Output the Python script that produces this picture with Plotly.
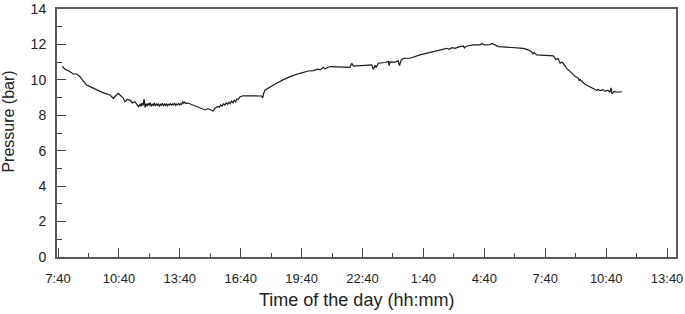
import plotly.graph_objects as go

# Time in hours elapsed since 7:40, pressure in bar
hours = [
    0.21, 0.34, 0.54, 0.75, 0.92, 1.08, 1.23, 1.41, 1.58, 1.82, 2.07, 2.32, 2.56, 2.72, 2.86, 2.97,
    3.14, 3.20, 3.30, 3.40, 3.55, 3.65, 3.79, 3.89, 3.96,
    4.04, 4.09, 4.14, 4.19, 4.24, 4.29, 4.34, 4.39, 4.44, 4.49, 4.54, 4.59, 4.64, 4.69, 4.74, 4.79,
    4.84, 4.89, 4.94, 4.99, 5.04, 5.09, 5.14, 5.19, 5.24, 5.29, 5.34, 5.39, 5.44, 5.49, 5.54, 5.59,
    5.64, 5.69, 5.74, 5.79, 5.84, 5.89, 5.94, 5.99, 6.04, 6.09, 6.14, 6.19, 6.24, 6.30,
    6.40, 6.65, 7.00, 7.24, 7.39, 7.49, 7.64, 7.73, 7.88,
    7.95, 8.02, 8.08, 8.15, 8.22, 8.28, 8.35, 8.42, 8.48, 8.55, 8.62, 8.68, 8.75, 8.82, 8.88, 8.97,
    9.11, 10.03, 10.08, 10.12, 10.20, 10.44, 10.77, 11.08, 11.43, 11.92, 12.33, 12.58, 12.81, 12.91,
    13.07, 13.15, 13.40, 14.38, 14.47, 14.55, 15.45, 15.53, 15.62, 15.67, 15.78, 16.11, 16.27, 16.31,
    16.35, 16.60, 16.76, 16.82, 16.90, 17.01, 17.34, 17.83, 18.33, 19.15, 19.26, 19.41, 19.56, 19.70,
    19.96, 20.02, 20.10, 20.46, 20.79, 20.89, 20.99, 21.28, 21.38, 21.48, 21.69, 22.92, 23.10, 23.33,
    23.40, 23.45, 23.58, 24.40, 24.53, 24.63, 24.73, 24.83, 25.06, 25.47, 25.62, 25.67, 25.71, 25.96,
    26.45, 26.55, 26.60, 26.70, 26.85, 26.95, 27.09, 27.19, 27.24, 27.29, 27.39, 27.54, 27.78,
]
pressure = [
    10.78, 10.60, 10.50, 10.33, 10.33, 10.18, 9.95, 9.71, 9.62, 9.47, 9.35, 9.24, 9.15, 8.96, 9.10, 9.24,
    9.05, 9.00, 8.77, 8.90, 8.86, 8.70, 8.77, 8.60, 8.49,
    8.62, 8.50, 8.70, 8.55, 8.92, 8.45, 8.65, 8.52, 8.68, 8.55, 8.72, 8.50, 8.62, 8.56, 8.70, 8.52,
    8.64, 8.58, 8.66, 8.50, 8.62, 8.57, 8.68, 8.53, 8.63, 8.56, 8.66, 8.54, 8.62, 8.58, 8.67, 8.55,
    8.64, 8.59, 8.69, 8.56, 8.63, 8.60, 8.67, 8.58, 8.65, 8.62, 8.78, 8.68, 8.74, 8.66,
    8.69, 8.58, 8.45, 8.30, 8.38, 8.32, 8.24, 8.40, 8.50,
    8.46, 8.58, 8.52, 8.64, 8.58, 8.70, 8.62, 8.74, 8.66, 8.80, 8.70, 8.86, 8.76, 8.92, 8.90, 9.05,
    9.10, 9.09, 8.98, 9.20, 9.43, 9.60, 9.81, 10.00, 10.18, 10.37, 10.50, 10.52, 10.60, 10.56,
    10.71, 10.62, 10.75, 10.71, 10.94, 10.78, 10.85, 10.60, 10.82, 10.70, 10.94, 10.98, 11.05, 10.80,
    11.02, 11.00, 11.07, 10.80, 11.10, 11.22, 11.22, 11.41, 11.54, 11.78, 11.72, 11.82, 11.78, 11.85,
    11.91, 11.80, 11.90, 11.97, 11.98, 12.05, 11.97, 11.98, 12.05, 11.98, 11.88, 11.78, 11.72, 11.59,
    11.45, 11.55, 11.41, 11.35, 11.15, 11.20, 10.94, 11.00, 10.65, 10.20, 10.10, 9.95, 10.02, 9.75,
    9.43, 9.40, 9.47, 9.39, 9.45, 9.35, 9.42, 9.30, 9.55, 9.22, 9.35, 9.30, 9.33,
]

tick_vals = [0, 3, 6, 9, 12, 15, 18, 21, 24, 27, 30]
tick_text = ["7:40", "10:40", "13:40", "16:40", "19:40", "22:40", "1:40", "4:40", "7:40", "10:40", "13:40"]

fig = go.Figure()
fig.add_trace(go.Scatter(x=hours, y=pressure, mode="lines",
                         line=dict(color="#1a1a1a", width=1.2), showlegend=False))

font = "Liberation Sans, Arial, Helvetica, sans-serif"
fig.update_layout(
    width=685, height=314,
    margin=dict(l=57, r=9, t=9, b=57, autoexpand=False),
    paper_bgcolor="white", plot_bgcolor="white",
    font=dict(family=font, color="#222222", size=13),
    annotations=[
        dict(text="Time of the day (hh:mm)", xref="paper", yref="paper",
             x=0.484, y=-0.173, xanchor="center", yanchor="middle", showarrow=False,
             font=dict(size=18, color="#222222")),
        dict(text="Pressure (bar)", xref="paper", yref="paper",
             x=-0.0775, y=0.546, xanchor="center", yanchor="middle", showarrow=False,
             textangle=-90, font=dict(size=16, color="#222222")),
    ],
)
fig.update_xaxes(
    range=[-0.05, 30.44], tickvals=tick_vals, ticktext=tick_text,
    ticks="inside", ticklen=9, tickwidth=1, tickcolor="#444444",
    minor=dict(ticks="inside", ticklen=4, dtick=1.5, tick0=0, tickcolor="#444444"),
    showline=True, linecolor="#5a5a5a", linewidth=2, mirror=True,
    showgrid=False, zeroline=False, automargin=False,
    tickfont=dict(size=13), ticklabelstandoff=8, ticklabeloverflow="allow",
)
fig.update_yaxes(
    range=[0, 14], tickvals=[0, 2, 4, 6, 8, 10, 12, 14],
    ticks="inside", ticklen=9, tickwidth=1, tickcolor="#444444",
    minor=dict(ticks="inside", ticklen=5, dtick=1, tick0=0, tickcolor="#444444"),
    showline=True, linecolor="#5a5a5a", linewidth=2, mirror=True,
    showgrid=False, zeroline=False, automargin=False,
    tickfont=dict(size=14), ticklabelstandoff=6, ticklabeloverflow="allow",
)

fig.write_html("out.html", config={"displayModeBar": False},
               post_script="document.body.style.margin='0px';document.body.style.padding='0px';")
